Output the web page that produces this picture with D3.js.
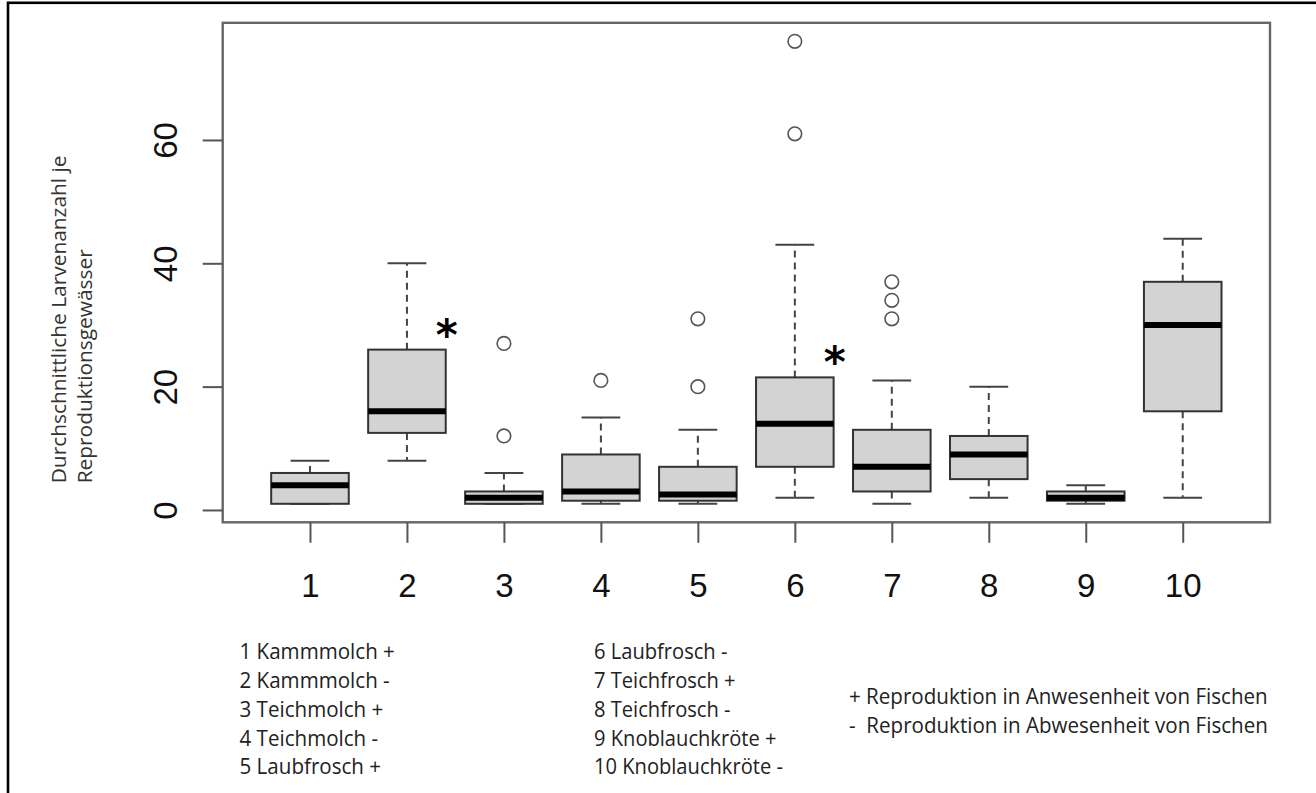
<!DOCTYPE html>
<html>
<head>
<meta charset="utf-8">
<script src="https://cdn.jsdelivr.net/npm/d3@7"></script>
<style>
html,body{margin:0;padding:0;background:#fff;}
svg{display:block;}
text{white-space:pre;}
</style>
</head>
<body>
<svg id="chart" width="1316" height="793"></svg>
<script>
// ---------- data ----------
const categories   = ["1","2","3","4","5","6","7","8","9","10"];
const lowWhisker   = [1, 8,   1, 1,   1,   2,    1,  2, 1,   2];
const q1           = [1, 12.5,1, 1.5, 1.5, 7,    3,  5, 1.5, 16];
const median       = [4, 16,  2, 3,   2.5, 14,   7,  9, 2,   30];
const q3           = [6, 26,  3, 9,   7,   21.5, 13, 12,3,   37];
const highWhisker  = [8, 40,  6, 15,  13,  43,   21, 20,4,   44];
const outliers     = [[],[],[27,12],[21],[31,20],[76,61],[37,34,31],[],[],[]];
const significant  = ["2","6"];           // groups marked with *
const yTicks       = [0,20,40,60];
const yTitle       = ["Durchschnittliche Larvenanzahl je","Reproduktionsgewässer"];
const legendCol1   = ["1 Kammmolch +","2 Kammmolch -","3 Teichmolch +","4 Teichmolch -","5 Laubfrosch +"];
const legendCol2   = ["6 Laubfrosch -","7 Teichfrosch +","8 Teichfrosch -","9 Knoblauchkröte +","10 Knoblauchkröte -"];
const signLegend   = ["+ Reproduktion in Anwesenheit von Fischen","-  Reproduktion in Abwesenheit von Fischen"];

// ---------- layout ----------
const svg = d3.select("#chart");
const plot = {left:222.7, right:1270, top:22.8, bottom:522.3};
const x = d3.scaleLinear().domain([0.1, 10.9]).range([plot.left, plot.right]);
const y = d3.scaleLinear().domain([-2, 79]).range([plot.bottom, plot.top]);
const unit = x(1) - x(0);
const boxW = 0.8 * unit, capW = 0.4 * unit;
const axisFont = "'Liberation Sans', Arial, sans-serif";
const textFont = "'Open Sans', 'Noto Sans', sans-serif";

// outer frame
svg.append("rect").attr("x",8).attr("y",2.8).attr("width",1400).attr("height",900)
  .attr("fill","none").attr("stroke","#000").attr("stroke-width",2.6);

// plot border
svg.append("rect").attr("x",plot.left).attr("y",plot.top)
  .attr("width",plot.right-plot.left).attr("height",plot.bottom-plot.top)
  .attr("fill","none").attr("stroke","#666").attr("stroke-width",2.4);

// y axis
const yAxis = svg.append("g").attr("transform",`translate(${plot.left},0)`)
  .call(d3.axisLeft(y).tickValues(yTicks).tickSize(20).tickPadding(0).tickFormat(d3.format("d")));
yAxis.select(".domain").remove();
yAxis.selectAll(".tick line").attr("stroke","#555").attr("stroke-width",2);
yAxis.selectAll(".tick text")
  .attr("font-family",axisFont).attr("font-size",33).attr("fill","#111")
  .attr("text-anchor","middle").attr("dy",null).attr("x",null)
  .attr("transform","translate(-45.7,0) rotate(-90)");

// x axis
const xAxis = svg.append("g").attr("transform",`translate(0,${plot.bottom})`)
  .call(d3.axisBottom(x).tickValues(categories.map(Number)).tickSize(20.5).tickPadding(0).tickFormat(d=>categories[d-1]));
xAxis.select(".domain").remove();
xAxis.selectAll(".tick line").attr("stroke","#555").attr("stroke-width",2);
xAxis.selectAll(".tick text")
  .attr("font-family",axisFont).attr("font-size",33).attr("fill","#111")
  .attr("dy",null).attr("y",75);

// boxes
const groups = svg.append("g").selectAll("g").data(categories).join("g")
  .attr("transform",(d)=>`translate(${x(+d)},0)`);

groups.each(function(d,i){
  const g = d3.select(this);
  // whiskers (dashed)
  g.append("line").attr("x1",0).attr("x2",0).attr("y1",y(q3[i])).attr("y2",y(highWhisker[i]))
    .attr("stroke","#444").attr("stroke-width",2).attr("stroke-dasharray","7,5");
  g.append("line").attr("x1",0).attr("x2",0).attr("y1",y(q1[i])).attr("y2",y(lowWhisker[i]))
    .attr("stroke","#444").attr("stroke-width",2).attr("stroke-dasharray","7,5");
  // caps
  [highWhisker[i], lowWhisker[i]].forEach(v=>{
    g.append("line").attr("x1",-capW/2).attr("x2",capW/2).attr("y1",y(v)).attr("y2",y(v))
      .attr("stroke","#444").attr("stroke-width",2);
  });
  // box
  g.append("rect").attr("x",-boxW/2).attr("width",boxW)
    .attr("y",y(q3[i])).attr("height",y(q1[i])-y(q3[i]))
    .attr("fill","#d3d3d3").attr("stroke","#333").attr("stroke-width",2);
  // median
  g.append("line").attr("x1",-boxW/2).attr("x2",boxW/2).attr("y1",y(median[i])).attr("y2",y(median[i]))
    .attr("stroke","#000").attr("stroke-width",6);
  // outliers
  g.selectAll("circle").data(outliers[i]).join("circle")
    .attr("cx",0).attr("cy",v=>y(v)).attr("r",6.8)
    .attr("fill","none").attr("stroke","#555").attr("stroke-width",1.6);
});

// significance asterisks (placed at the upper right corner of the box)
significant.forEach(c=>{
  const i = categories.indexOf(c);
  const t = svg.append("text").text("*")
    .attr("font-family","'DejaVu Sans', sans-serif").attr("font-weight","bold")
    .attr("font-size",42).attr("fill","#000");
  const bb = t.node().getBBox();
  const cx = x(+c) + boxW/2 + 1;
  const cy = y(q3[i]) - 23.5;
  t.attr("x", cx - bb.width/2).attr("y", cy + 0.56*42);
});

// y title (two rotated lines, start-aligned at bottom)
const titleLines = svg.append("g");
const tl = titleLines.selectAll("text").data(yTitle).join("text")
  .text(d=>d).attr("font-family",textFont).attr("font-size",20).attr("fill","#333");
const len0 = tl.nodes()[0].getComputedTextLength();
const kT = 328 / len0;
tl.attr("transform",(d,i)=>`translate(${65.7 + i*26.5},483.3) rotate(-90) scale(${kT},1)`);

// legends
function legendColumn(lines, x0, y0, dy, targetFirst){
  const g = svg.append("g");
  const t = g.selectAll("text").data(lines).join("text")
    .text(d=>d).attr("font-family",textFont).attr("font-size",21.5).attr("fill","#222")
    .attr("x",0).attr("y",(d,i)=>y0 + i*dy);
  const k = targetFirst / t.nodes()[0].getComputedTextLength();
  g.attr("transform",`translate(${x0},0) scale(${k},1)`);
}
legendColumn(legendCol1, 239.5, 659.3, 28.8, 155.5);
legendColumn(legendCol2, 594, 659.3, 28.8, 133.5);
legendColumn(signLegend, 849, 704, 28.6, 419);
</script>
</body>
</html>
